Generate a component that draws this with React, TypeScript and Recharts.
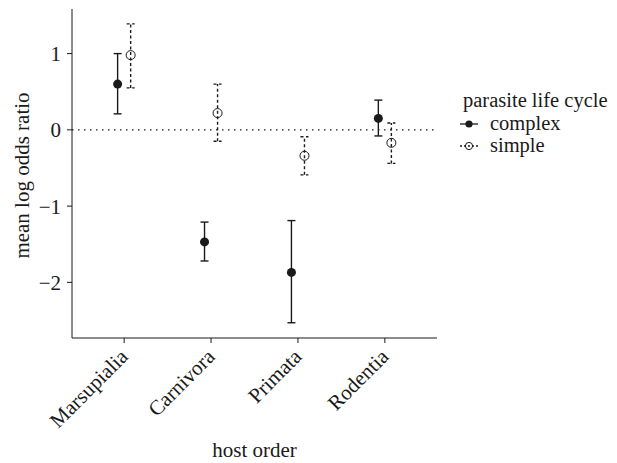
import React from 'react'
import {
  ScatterChart,
  Scatter,
  XAxis,
  YAxis,
  ZAxis,
  ErrorBar,
  ReferenceLine,
  Legend,
  Label,
} from 'recharts'

const hostOrders = ['Marsupialia', 'Carnivora', 'Primata', 'Rodentia']

const complexMean = [0.6, -1.47, -1.87, 0.15]
const complexLow = [0.21, -1.72, -2.53, -0.08]
const complexHigh = [1.0, -1.21, -1.19, 0.39]

const simpleMean = [0.98, 0.22, -0.34, -0.17]
const simpleLow = [0.55, -0.15, -0.59, -0.44]
const simpleHigh = [1.39, 0.6, -0.09, 0.09]

const yTicks = [-2, -1, 0, 1]
const xTicks = [1, 2, 3, 4]

const FONT = 'Liberation Serif, Times New Roman, Times, DejaVu Serif, serif'
const FS = 21
const INK = '#1a1a1a'
const DODGE = 0.075

const build = (mean: number[], low: number[], high: number[], shift: number) =>
  hostOrders.map((name, i) => ({
    name,
    x: i + 1 + shift,
    y: mean[i],
    err: [mean[i] - low[i], high[i] - mean[i]],
  }))

const complexData = build(complexMean, complexLow, complexHigh, -DODGE)
const simpleData = build(simpleMean, simpleLow, simpleHigh, DODGE)

const fmtY = (v: number) => (v < 0 ? '\u2212' + Math.abs(v) : String(v))

function AngledTick(props: any) {
  const { x, y, payload } = props
  const label = hostOrders[Math.round(payload.value) - 1]
  return (
    <g transform={`translate(${x + 5},${y + 13})`}>
      <text
        x={0}
        y={0}
        textAnchor="end"
        transform="rotate(-45)"
        style={{ fontFamily: FONT, fontSize: FS }}
        fill={INK}
      >
        {label}
      </text>
    </g>
  )
}

function YTitle(props: any) {
  const vb = props.viewBox
  const cy = vb.y + vb.height / 2 + 2
  return (
    <text
      x={21}
      y={cy}
      transform={`rotate(-90, 21, ${cy})`}
      textAnchor="middle"
      style={{ fontFamily: FONT, fontSize: FS }}
      fill={INK}
    >
      mean log odds ratio
    </text>
  )
}

function LegendBox() {
  const t = { fontFamily: FONT, fontSize: 20.5 }
  return (
    <svg width={158} height={74} style={{ display: 'block', overflow: 'visible' }}>
      <text x={13} y={22} style={t} fill={INK}>
        parasite life cycle
      </text>
      <line x1={10} y1={39} x2={28} y2={39} stroke={INK} strokeWidth={1.3} />
      <circle cx={19} cy={39} r={3.6} fill={INK} />
      <text x={40} y={45} style={t} fill={INK}>
        complex
      </text>
      <line x1={10} y1={61} x2={28} y2={61} stroke={INK} strokeWidth={1.3} strokeDasharray="2 2" />
      <circle cx={19} cy={61} r={3.6} fill="none" stroke={INK} strokeWidth={1} />
      <text x={40} y={67} style={t} fill={INK}>
        simple
      </text>
    </svg>
  )
}

export default function App() {
  return (
    <div style={{ fontFamily: FONT }}>
      <ScatterChart
        width={609}
        height={455}
        margin={{ top: 1, right: 180, bottom: 0, left: 0 }}
      >
        <XAxis
          type="number"
          dataKey="x"
          domain={[0.4, 4.6]}
          ticks={xTicks}
          allowDataOverflow
          height={125}
          tickSize={5}
          tick={<AngledTick />}
          axisLine={{ stroke: INK, strokeWidth: 1 }}
          tickLine={{ stroke: INK, strokeWidth: 1 }}
          interval={0}
        >
          <Label
            value="host order"
            position="insideBottom"
            offset={6}
            style={{ fontFamily: FONT, fontSize: FS }}
            fill={INK}
          />
        </XAxis>
        <YAxis
          type="number"
          dataKey="y"
          domain={[-2.73, 1.585]}
          ticks={yTicks}
          allowDataOverflow
          width={64}
          tickSize={5}
          tickMargin={6}
          tickFormatter={fmtY}
          tick={{ fill: INK, fontSize: FS, style: { fontFamily: FONT, fontSize: FS } }}
          axisLine={{ stroke: INK, strokeWidth: 1 }}
          tickLine={{ stroke: INK, strokeWidth: 1 }}
        >
          <Label content={<YTitle />} />
        </YAxis>
        <ZAxis range={[75, 75]} />
        <ReferenceLine y={0} stroke={INK} strokeWidth={1.3} strokeDasharray="1.5 4.5" />
        <Scatter
          name="complex"
          data={complexData}
          fill={INK}
          shape="circle"
          isAnimationActive={false}
        >
          <ErrorBar dataKey="err" direction="y" width={4} stroke={INK} strokeWidth={1.4} />
        </Scatter>
        <Scatter
          name="simple"
          data={simpleData}
          fill="none"
          stroke={INK}
          strokeWidth={1}
          shape="circle"
          isAnimationActive={false}
        >
          <ErrorBar
            dataKey="err"
            direction="y"
            width={4}
            stroke={INK}
            strokeWidth={1.4}
            strokeDasharray="3 2.5"
          />
        </Scatter>
        <Legend
          layout="vertical"
          align="center"
          verticalAlign="middle"
          content={<LegendBox />}
          wrapperStyle={{ left: 442, top: 77, width: 158 }}
        />
      </ScatterChart>
    </div>
  )
}
